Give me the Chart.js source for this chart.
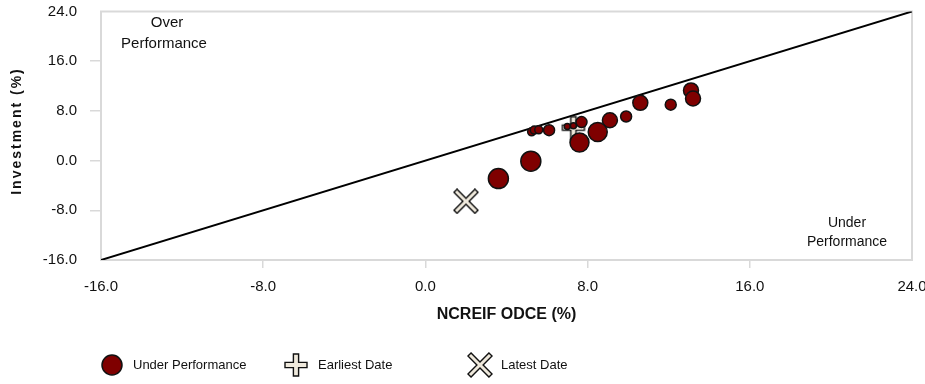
<!DOCTYPE html>
<html>
<head>
<meta charset="utf-8">
<script src="https://cdn.jsdelivr.net/npm/chart.js@4/dist/chart.umd.min.js"></script>
<style>
  html, body { margin: 0; padding: 0; background: #fff; }
  #wrap { width: 925px; height: 384px; position: relative; }
</style>
</head>
<body>
<div id="wrap"><canvas id="chart"></canvas></div>
<script>
// NCREIF ODCE (%) on x, Investment (%) on y
const perfX = [5.24, 5.37, 5.59, 7.0, 7.3, 6.1, 7.7, 9.9, 12.1, 9.1, 10.6, 13.1, 13.2, 8.5, 7.6, 5.2, 3.6];
const perfY = [4.64, 4.91, 4.96, 5.5, 5.6, 4.9, 6.2, 7.1, 9.0, 6.5, 9.3, 11.3, 10.0, 4.6, 2.9, -0.1, -2.9];
// bubble size per period, grows towards the latest date
const perfSize = [4, 4, 4, 3, 3, 5.5, 5.5, 5.5, 5.5, 7.5, 7.5, 7.5, 7.5, 9.5, 9.5, 10, 10];

const earliestPoint = [7.3, 5.3];
const latestPoint = [2.0, -6.55];

const parityLine = [-16, 24];
const axisTicks = [-16, -8, 0, 8, 16, 24];

const legendLabels = ['Under Performance', 'Earliest Date', 'Latest Date'];

const FONT = '"Liberation Sans", Arial, sans-serif';
const DARK_RED = '#7f0000';

// hollow plus / cross markers drawn once into small canvases
function makeMarker(kind, size) {
    const c = document.createElement('canvas');
    c.width = size + 4;
    c.height = size + 4;
    const ctx = c.getContext('2d');
    ctx.translate(c.width / 2, c.height / 2);
    if (kind === 'x') ctx.rotate(Math.PI / 4);
    const h = size / 2;
    const w = kind === 'x' ? 2.2 : 2.6;
    const len = kind === 'x' ? h * 1.35 : h;
    ctx.beginPath();
    ctx.moveTo(-w, -len); ctx.lineTo(w, -len); ctx.lineTo(w, -w);
    ctx.lineTo(len, -w); ctx.lineTo(len, w); ctx.lineTo(w, w);
    ctx.lineTo(w, len); ctx.lineTo(-w, len); ctx.lineTo(-w, w);
    ctx.lineTo(-len, w); ctx.lineTo(-len, -w); ctx.lineTo(-w, -w);
    ctx.closePath();
    ctx.fillStyle = '#efe9dc';
    ctx.fill();
    ctx.lineWidth = 1.4;
    ctx.strokeStyle = '#111';
    ctx.stroke();
    return c;
}
const plusImg = makeMarker('plus', 22);
const crossImg = makeMarker('x', 22);

const boxPlugin = {
    id: 'boxPlugin',
    beforeDatasetsDraw(chart) {
        const { ctx, chartArea } = chart;
        ctx.save();
        ctx.strokeStyle = '#d9d9d9';
        ctx.lineWidth = 2;
        ctx.strokeRect(chartArea.left, chartArea.top, chartArea.right - chartArea.left, chartArea.bottom - chartArea.top);
        ctx.restore();
    },
    afterDraw(chart) {
        const { ctx } = chart;
        ctx.save();
        ctx.fillStyle = '#111';
        ctx.textAlign = 'center';
        ctx.textBaseline = 'middle';
        // corner annotations
        ctx.font = '15px ' + FONT;
        ctx.fillText('Over', 167, 23);
        ctx.fillText('Performance', 164, 44);
        ctx.font = '14px ' + FONT;
        ctx.fillText('Under', 847, 223);
        ctx.fillText('Performance', 847, 242);

        // y axis title with letter spacing
        ctx.save();
        ctx.translate(17, 131);
        ctx.rotate(-Math.PI / 2);
        ctx.font = 'bold 14px ' + FONT;
        ctx.letterSpacing = '2px';
        ctx.fillText('Investment (%)', 0, 0);
        ctx.restore();

        // legend
        const ly = 365;
        ctx.textAlign = 'left';
        ctx.font = '13px ' + FONT;
        ctx.beginPath();
        ctx.arc(112, ly, 10, 0, Math.PI * 2);
        ctx.fillStyle = DARK_RED;
        ctx.fill();
        ctx.lineWidth = 1.5;
        ctx.strokeStyle = '#111';
        ctx.stroke();
        ctx.drawImage(plusImg, 296 - plusImg.width / 2, ly - plusImg.height / 2);
        ctx.drawImage(crossImg, 480 - crossImg.width / 2, ly - crossImg.height / 2);
        ctx.fillStyle = '#111';
        ctx.fillText(legendLabels[0], 133, ly);
        ctx.fillText(legendLabels[1], 318, ly);
        ctx.fillText(legendLabels[2], 501, ly);
        ctx.restore();
    }
};

const fmt = v => Number(v).toFixed(1);
const noPadding = s => {
    s.paddingTop = 0; s.paddingBottom = 0; s.paddingLeft = 0; s.paddingRight = 0;
};
const edgeTick = c => c.tick && (c.tick.value === axisTicks[0] || c.tick.value === axisTicks[axisTicks.length - 1]);

new Chart(document.getElementById('chart'), {
    type: 'bubble',
    data: {
        datasets: [
            {
                label: legendLabels[0],
                data: perfX.map((x, i) => ({ x, y: perfY[i], r: perfSize[i] })),
                backgroundColor: DARK_RED,
                borderColor: '#111',
                borderWidth: 1.5,
                order: 1
            },
            {
                type: 'scatter',
                label: legendLabels[1],
                data: [{ x: earliestPoint[0], y: earliestPoint[1] }],
                pointStyle: plusImg,
                order: 2
            },
            {
                type: 'scatter',
                label: legendLabels[2],
                data: [{ x: latestPoint[0], y: latestPoint[1] }],
                pointStyle: crossImg,
                order: 2
            },
            {
                type: 'line',
                label: 'parity',
                data: parityLine.map(v => ({ x: v, y: v })),
                borderColor: '#000',
                borderWidth: 2,
                pointRadius: 0,
                fill: false,
                order: 3
            }
        ]
    },
    options: {
        responsive: true,
        maintainAspectRatio: false,
        animation: false,
        layout: { padding: { top: 9, right: 13, bottom: 60, left: 0 } },
        plugins: {
            legend: { display: false },
            tooltip: { enabled: false }
        },
        scales: {
            x: {
                type: 'linear',
                min: axisTicks[0],
                max: axisTicks[axisTicks.length - 1],
                afterBuildTicks: s => { s.ticks = axisTicks.map(v => ({ value: v })); },
                afterFit: s => { s.height = 64; noPadding(s); },
                border: { display: false },
                grid: {
                    drawOnChartArea: false,
                    tickLength: 8,
                    color: c => edgeTick(c) ? 'rgba(0,0,0,0)' : '#d9d9d9',
                    lineWidth: 1.5
                },
                ticks: {
                    padding: 10,
                    color: '#111',
                    font: { family: FONT, size: 15 },
                    callback: fmt,
                    maxRotation: 0
                },
                title: {
                    display: true,
                    text: 'NCREIF ODCE (%)',
                    color: '#111',
                    font: { family: FONT, size: 16, weight: 'bold' },
                    padding: 0
                }
            },
            y: {
                type: 'linear',
                min: axisTicks[0],
                max: axisTicks[axisTicks.length - 1],
                afterBuildTicks: s => { s.ticks = axisTicks.map(v => ({ value: v })); },
                afterFit: s => { s.width = 101; noPadding(s); },
                border: { display: false },
                grid: {
                    drawOnChartArea: false,
                    tickLength: 11,
                    color: c => edgeTick(c) ? 'rgba(0,0,0,0)' : '#d9d9d9',
                    lineWidth: 1.5
                },
                ticks: {
                    padding: 13,
                    color: '#111',
                    font: { family: FONT, size: 15 },
                    callback: fmt
                }
            }
        }
    },
    plugins: [boxPlugin]
});
</script>
</body>
</html>
